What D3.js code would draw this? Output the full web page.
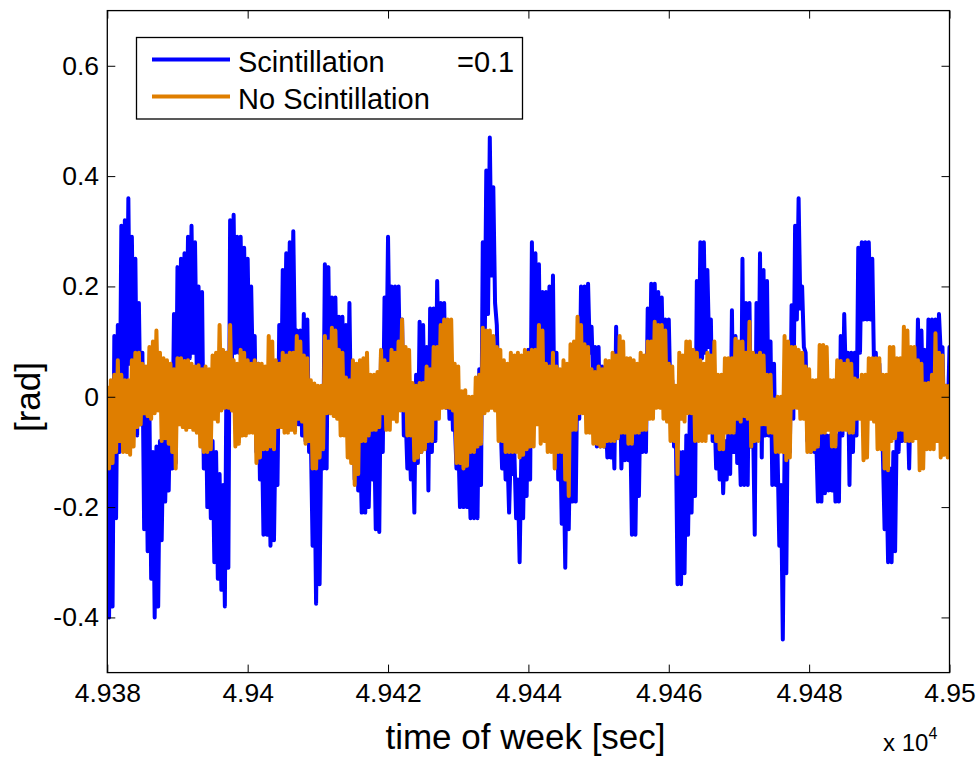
<!DOCTYPE html>
<html>
<head>
<meta charset="utf-8">
<script src="https://cdn.jsdelivr.net/npm/d3@7.9.0/dist/d3.min.js"></script>
<style>
  body { margin: 0; background: #fff; }
  svg { display: block; }
  text { font-family: "Liberation Sans", Arial, sans-serif; fill: #000; }
</style>
</head>
<body>
<svg id="chart" width="979" height="758"></svg>
<script>
// time of week samples: start + step * index (seconds)
const timeStart = 49380;
const timeStep = 0.5;

const xTicks = [49380, 49400, 49420, 49440, 49460, 49480, 49500];
const yTicks = [-0.4, -0.2, 0, 0.2, 0.4, 0.6];

const seriesNames = ['Scintillation', 'No Scintillation'];

// phase error with scintillation [rad]: upper / lower excursion in each 0.5 s step
const scintHi = [
  -0.13, -0.10, 0.11, 0.13, 0.31, 0.32, 0.36, 0.29, 0.25, 0.17,
  0.08, 0.00, -0.02, -0.10, -0.09, -0.08, -0.05, -0.05, 0.02, 0.15,
  0.235, 0.25, 0.26, 0.29, 0.31, 0.28, 0.20, 0.19, 0.05, -0.04,
  -0.08, -0.10, -0.14, -0.16, 0.08, 0.32, 0.33, 0.29, 0.29, 0.27,
  0.25, 0.20, 0.11, 0.06, -0.04, -0.08, -0.08, -0.06, -0.04, 0.13,
  0.23, 0.26, 0.28, 0.30, 0.12, 0.12, 0.15, 0.14, -0.07, -0.10,
  -0.07, -0.05, 0.24, 0.235, 0.18, 0.18, 0.145, 0.145, 0.13, 0.17,
  0.04, 0.02, -0.07, -0.07, -0.07, -0.04, -0.04, -0.04, 0.08, 0.18,
  0.29, 0.20, 0.20, 0.20, 0.14, -0.03, -0.05, -0.07, 0.04, 0.136,
  0.13, 0.09, 0.16, 0.16, 0.21, 0.17, 0.17, 0.07, 0.05, -0.04,
  -0.07, -0.08, -0.10, -0.10, -0.10, -0.08, 0.05, 0.28, 0.41, 0.47,
  0.38, 0.13, -0.03, -0.04, -0.10, -0.09, -0.10, -0.15, -0.10, -0.03,
  0.085, 0.28, 0.26, 0.24, 0.19, 0.19, 0.20, 0.22, 0.08, -0.04,
  -0.10, -0.07, -0.04, -0.04, 0.08, 0.20, 0.20, 0.205, 0.127, 0.09,
  0.09, 0.055, -0.03, -0.03, -0.03, 0.127, 0.066, -0.03, -0.03, -0.04,
  -0.04, -0.03, 0.03, 0.03, 0.16, 0.205, 0.205, 0.19, 0.18, 0.14,
  0.14, 0.03, -0.05, -0.10, -0.10, -0.07, -0.03, 0.00, 0.21, 0.28,
  0.28, 0.23, 0.14, -0.02, -0.03, -0.04, -0.08, -0.06, 0.157, 0.11,
  -0.04, 0.25, 0.17, 0.17, -0.04, 0.17, 0.26, 0.23, 0.21, 0.10,
  0.06, -0.10, -0.16, -0.10, 0.02, 0.166, 0.31, 0.36, 0.20, 0.08,
  -0.04, -0.04, -0.07, -0.07, -0.04, -0.07, -0.07, -0.07, -0.07, 0.11,
  0.15, 0.08, 0.08, 0.08, 0.27, 0.28, 0.28, 0.28, 0.25, 0.08,
  0.06, -0.10, -0.13, -0.13, -0.10, -0.04, 0.02, 0.02, 0.00, 0.02,
  0.02, 0.14, 0.12, 0.085, 0.14, 0.14, 0.14, 0.15, 0.09, 0.02,
  0.09
];
const scintLo = [
  -0.40, -0.38, -0.22, -0.10, -0.04, 0.02, 0.06, 0.05, -0.07, -0.05,
  -0.24, -0.28, -0.33, -0.40, -0.38, -0.26, -0.19, -0.17, -0.13, -0.12,
  0.05, 0.03, 0.06, 0.07, 0.08, 0.04, -0.02, -0.13, -0.20, -0.22,
  -0.30, -0.33, -0.35, -0.38, -0.31, 0.05, 0.08, 0.08, 0.07, 0.06,
  0.05, 0.03, -0.10, -0.15, -0.25, -0.25, -0.27, -0.26, -0.16, -0.04,
  0.06, 0.07, 0.07, 0.07, -0.05, -0.07, -0.08, -0.10, -0.27, -0.375,
  -0.34, -0.13, -0.13, -0.03, -0.02, -0.03, -0.03, -0.04, -0.05, -0.07,
  -0.15, -0.17, -0.21, -0.21, -0.20, -0.15, -0.24, -0.245, -0.10, 0.02,
  0.06, 0.02, 0.02, 0.02, -0.07, -0.13, -0.15, -0.21, -0.12, -0.10,
  -0.08, -0.17, -0.10, -0.08, 0.02, 0.00, -0.02, -0.04, -0.06, -0.13,
  -0.20, -0.20, -0.20, -0.22, -0.22, -0.22, -0.16, 0.05, 0.15, 0.22,
  0.17, -0.02, -0.13, -0.15, -0.21, -0.14, -0.22, -0.30, -0.22, -0.18,
  -0.15, -0.03, -0.04, -0.04, -0.04, -0.04, -0.06, -0.10, -0.15, -0.23,
  -0.31, -0.24, -0.19, -0.19, -0.04, 0.02, 0.04, 0.08, 0.02, -0.09,
  -0.09, -0.09, -0.11, -0.11, -0.13, -0.07, -0.13, -0.115, -0.115, -0.25,
  -0.25, -0.18, -0.10, -0.10, -0.03, 0.02, 0.02, 0.03, 0.02, -0.01,
  -0.01, -0.09, -0.34, -0.34, -0.32, -0.25, -0.21, -0.18, 0.02, 0.07,
  0.08, 0.09, -0.08, -0.13, -0.15, -0.175, -0.15, -0.14, -0.10, -0.12,
  -0.16, -0.16, -0.16, -0.09, -0.25, -0.07, -0.11, -0.07, -0.07, -0.16,
  -0.16, -0.27, -0.44, -0.32, -0.10, -0.04, 0.14, 0.16, 0.09, -0.08,
  -0.10, -0.10, -0.19, -0.19, -0.175, -0.17, -0.17, -0.19, -0.19, -0.07,
  0.02, -0.16, -0.10, -0.07, 0.08, 0.14, 0.14, 0.14, 0.05, -0.04,
  -0.05, -0.24, -0.30, -0.30, -0.28, -0.10, -0.08, -0.08, -0.13, -0.07,
  -0.07, -0.02, -0.03, -0.08, -0.04, -0.04, 0.02, 0.08, -0.07, -0.04,
  -0.11
];

// phase error without scintillation [rad]: upper / lower excursion in each 0.5 s step
const noScintHi = [
  0.02, 0.03, 0.04, 0.066, 0.04, 0.03, 0.03, 0.066, 0.08, 0.08,
  0.06, 0.055, 0.09, 0.10, 0.12, 0.08, 0.07, 0.066, 0.06, 0.05,
  0.07, 0.07, 0.065, 0.066, 0.06, 0.055, 0.057, 0.05, 0.055, 0.05,
  0.075, 0.08, 0.13, 0.085, 0.08, 0.13, 0.066, 0.06, 0.085, 0.08,
  0.066, 0.06, 0.066, 0.06, 0.06, 0.055, 0.11, 0.10, 0.066, 0.06,
  0.08, 0.075, 0.08, 0.08, 0.11, 0.10, 0.075, 0.07, 0.03, 0.024,
  0.02, 0.02, 0.11, 0.10, 0.125, 0.12, 0.085, 0.08, 0.035, 0.03,
  0.066, 0.06, 0.066, 0.07, 0.08, 0.04, 0.04, 0.045, 0.085, 0.066,
  0.06, 0.085, 0.08, 0.10, 0.14, 0.09, 0.085, 0.025, 0.02, 0.025,
  0.025, 0.055, 0.05, 0.09, 0.09, 0.13, 0.14, 0.14, 0.14, 0.06,
  0.055, 0.01, 0.012, 0.00, 0.00, 0.035, 0.04, 0.125, 0.12, 0.12,
  0.11, 0.09, 0.085, 0.066, 0.06, 0.08, 0.075, 0.08, 0.075, 0.085,
  0.08, 0.085, 0.085, 0.13, 0.12, 0.06, 0.055, 0.08, 0.055, 0.05,
  0.066, 0.06, 0.095, 0.10, 0.145, 0.13, 0.095, 0.09, 0.05, 0.045,
  0.055, 0.05, 0.066, 0.065, 0.08, 0.075, 0.11, 0.10, 0.07, 0.07,
  0.066, 0.06, 0.08, 0.075, 0.10, 0.10, 0.136, 0.13, 0.13, 0.12,
  0.06, 0.055, 0.02, 0.08, 0.075, 0.10, 0.10, 0.085, 0.08, 0.066,
  0.06, 0.08, 0.075, 0.10, 0.04, 0.04, 0.07, 0.07, 0.07, 0.105,
  0.10, 0.10, 0.08, 0.136, 0.08, 0.075, 0.08, 0.075, 0.04, 0.04,
  -0.005, 0.00, 0.00, 0.11, 0.10, 0.09, 0.09, 0.085, 0.08, 0.055,
  0.05, 0.03, 0.03, 0.094, 0.094, 0.09, 0.03, 0.03, 0.066, 0.065,
  0.06, 0.066, 0.06, 0.033, 0.03, 0.04, 0.04, 0.07, 0.07, 0.07,
  0.07, 0.04, 0.04, 0.09, 0.09, 0.07, 0.07, 0.127, 0.12, 0.09,
  0.09, 0.066, 0.06, 0.024, 0.025, 0.04, 0.115, 0.08, 0.075, 0.02,
  0.02
];
const noScintLo = [
  -0.13, -0.12, -0.10, -0.08, -0.10, -0.10, -0.105, -0.09, -0.055, -0.05,
  -0.03, -0.035, -0.04, -0.03, -0.025, -0.08, -0.075, -0.085, -0.10, -0.13,
  -0.05, -0.055, -0.06, -0.055, -0.06, -0.065, -0.09, -0.10, -0.10, -0.095,
  -0.04, -0.045, -0.025, -0.02, -0.02, -0.025, -0.09, -0.085, -0.07, -0.07,
  -0.065, -0.065, -0.12, -0.11, -0.095, -0.095, -0.09, -0.095, -0.055, -0.055,
  -0.065, -0.065, -0.06, -0.065, -0.04, -0.045, -0.085, -0.08, -0.13, -0.13,
  -0.11, -0.095, -0.03, -0.03, -0.035, -0.04, -0.07, -0.07, -0.11, -0.12,
  -0.16, -0.14, -0.08, -0.08, -0.07, -0.06, -0.06, -0.055, -0.03, -0.06,
  -0.06, -0.04, -0.045, -0.025, -0.025, -0.07, -0.07, -0.115, -0.11, -0.10,
  -0.095, -0.08, -0.08, -0.04, -0.04, -0.02, -0.02, -0.02, -0.025, -0.12,
  -0.12, -0.13, -0.125, -0.10, -0.10, -0.09, -0.085, -0.03, -0.025, -0.02,
  -0.025, -0.08, -0.08, -0.10, -0.10, -0.10, -0.10, -0.11, -0.105, -0.095,
  -0.09, -0.09, -0.05, -0.085, -0.08, -0.10, -0.10, -0.13, -0.10, -0.10,
  -0.15, -0.18, -0.06, -0.06, -0.03, -0.03, -0.065, -0.065, -0.085, -0.085,
  -0.09, -0.09, -0.08, -0.08, -0.08, -0.075, -0.065, -0.065, -0.085, -0.085,
  -0.065, -0.065, -0.06, -0.06, -0.04, -0.04, -0.02, -0.02, -0.04, -0.045,
  -0.08, -0.08, -0.14, -0.04, -0.045, -0.03, -0.03, -0.08, -0.08, -0.08,
  -0.08, -0.065, -0.065, -0.08, -0.095, -0.095, -0.065, -0.065, -0.065, -0.04,
  -0.045, -0.035, -0.04, -0.09, -0.08, -0.08, -0.05, -0.05, -0.065, -0.065,
  -0.10, -0.10, -0.10, -0.115, -0.11, -0.02, -0.02, -0.04, -0.04, -0.10,
  -0.10, -0.095, -0.09, -0.065, -0.065, -0.06, -0.09, -0.09, -0.06, -0.06,
  -0.06, -0.065, -0.065, -0.04, -0.04, -0.115, -0.11, -0.04, -0.045, -0.095,
  -0.095, -0.13, -0.133, -0.08, -0.075, -0.06, -0.06, -0.08, -0.08, -0.08,
  -0.075, -0.133, -0.13, -0.095, -0.095, -0.095, -0.08, -0.11, -0.105, -0.11,
  -0.11
];

const width = 979;
const height = 758;
const margin = { top: 10.6, right: 29.5, bottom: 85.4, left: 107.3 };
const plot = {
  left: margin.left,
  right: width - margin.right,
  top: margin.top,
  bottom: height - margin.bottom,
};

const svg = d3.select('#chart');

const xScale = d3.scaleLinear()
  .domain([49380, 49500])
  .range([plot.left, plot.right]);

const yScale = d3.scaleLinear()
  .domain([-0.5, 0.7])
  .range([plot.bottom, plot.top]);

svg.append('defs').append('clipPath')
  .attr('id', 'plot-clip')
  .append('rect')
  .attr('x', plot.left)
  .attr('y', plot.top)
  .attr('width', plot.right - plot.left)
  .attr('height', plot.bottom - plot.top);

// the trace swings from the upper to the lower excursion inside each step
function tracePoints(hi, lo) {
  return hi.flatMap((h, i) => [
    [timeStart + i * timeStep, h],
    [timeStart + (i + 0.5) * timeStep, lo[i]],
  ]);
}

const line = d3.line()
  .x(d => xScale(d[0]))
  .y(d => yScale(d[1]));

const lines = svg.append('g').attr('clip-path', 'url(#plot-clip)');

lines.append('path')
  .datum(tracePoints(scintHi, scintLo))
  .attr('d', line)
  .attr('fill', 'none')
  .attr('stroke', '#0000ff')
  .attr('stroke-width', 4)
  .attr('stroke-linejoin', 'round');

lines.append('path')
  .datum(tracePoints(noScintHi, noScintLo))
  .attr('d', line)
  .attr('fill', 'none')
  .attr('stroke', '#df7e00')
  .attr('stroke-width', 4)
  .attr('stroke-linejoin', 'round');

// axes, MATLAB style: ticks inside on all four sides
const fmtX = d => String(+(d / 1e4).toFixed(4));
const fmtY = d => (d === 0 ? '0' : String(d));

svg.append('g')
  .attr('transform', `translate(0, ${plot.bottom})`)
  .call(d3.axisBottom(xScale).tickValues(xTicks).tickFormat(fmtX)
    .tickSizeInner(-8).tickSizeOuter(0).tickPadding(10.5));

svg.append('g')
  .attr('transform', `translate(${plot.left}, 0)`)
  .call(d3.axisLeft(yScale).tickValues(yTicks).tickFormat(fmtY)
    .tickSizeInner(-8).tickSizeOuter(0).tickPadding(8.3));

svg.append('g')
  .attr('transform', `translate(0, ${plot.top})`)
  .call(d3.axisTop(xScale).tickValues(xTicks).tickFormat('')
    .tickSizeInner(-8).tickSizeOuter(0));

svg.append('g')
  .attr('transform', `translate(${plot.right}, 0)`)
  .call(d3.axisRight(yScale).tickValues(yTicks).tickFormat('')
    .tickSizeInner(-8).tickSizeOuter(0));

svg.selectAll('.domain').remove();
svg.selectAll('.tick line').attr('stroke', '#000').attr('stroke-width', 1);
svg.selectAll('.tick text')
  .style('font-family', '"Liberation Sans", Arial, sans-serif')
  .style('font-size', '26.5px')
  .attr('fill', '#000');

svg.append('rect')
  .attr('x', plot.left)
  .attr('y', plot.top)
  .attr('width', plot.right - plot.left)
  .attr('height', plot.bottom - plot.top)
  .attr('fill', 'none')
  .attr('stroke', '#000')
  .attr('stroke-width', 1.3);

// axis labels
svg.append('text')
  .attr('x', 525.5)
  .attr('y', 749)
  .attr('text-anchor', 'middle')
  .style('font-size', '35px')
  .text('time of week [sec]');

svg.append('text')
  .attr('transform', 'translate(40, 397) rotate(-90)')
  .attr('text-anchor', 'middle')
  .style('font-size', '35px')
  .text('[rad]');

const expo = svg.append('text')
  .attr('x', 883)
  .attr('y', 751)
  .style('font-size', '24px')
  .text('x 10');
expo.append('tspan')
  .attr('dy', -12)
  .style('font-size', '16px')
  .text('4');

// legend
const legend = svg.append('g');
legend.append('rect')
  .attr('x', 136.5)
  .attr('y', 37.5)
  .attr('width', 386)
  .attr('height', 81.5)
  .attr('fill', '#fff')
  .attr('stroke', '#000')
  .attr('stroke-width', 1.3);

const legendColors = ['#0000ff', '#df7e00'];
const legendRows = [59.5, 96.5];

seriesNames.forEach((name, i) => {
  legend.append('line')
    .attr('x1', 152).attr('x2', 230)
    .attr('y1', legendRows[i]).attr('y2', legendRows[i])
    .attr('stroke', legendColors[i])
    .attr('stroke-width', 4);
  legend.append('text')
    .attr('x', 238)
    .attr('y', legendRows[i] + 12.5)
    .style('font-size', '29px')
    .text(name);
});

legend.append('text')
  .attr('x', 457)
  .attr('y', legendRows[0] + 12.5)
  .style('font-size', '29px')
  .text('=0.1');
</script>
</body>
</html>
